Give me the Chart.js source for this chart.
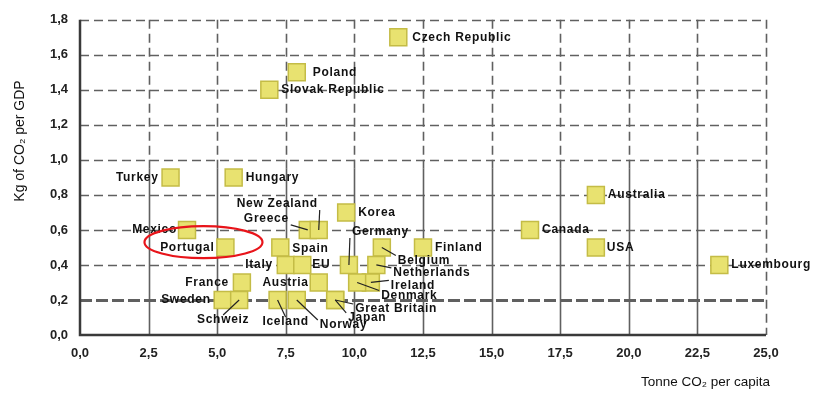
<!DOCTYPE html>
<html>
<head>
<meta charset="utf-8">
<script src="https://cdn.jsdelivr.net/npm/chart.js@4.4.1/dist/chart.umd.min.js"></script>
<style>
  html, body { margin: 0; padding: 0; background: #fff; }
  #wrap { width: 821px; height: 396px; }
</style>
</head>
<body>
<div id="wrap"><canvas id="scatterChart" width="821" height="396"></canvas></div>
<script>
// countries and their values (tonne CO2 per capita, kg CO2 per GDP)
const countries = [
  "Czech Republic", "Poland", "Slovak Republic", "Turkey", "Hungary",
  "Australia", "Canada", "USA", "Luxembourg", "Mexico", "Portugal",
  "Korea", "Greece", "New Zealand", "Spain", "Finland", "Belgium",
  "Netherlands", "Italy", "EU", "Germany", "France", "Austria",
  "Ireland", "Denmark", "Great Britain", "Japan", "Sweden", "Schweiz",
  "Iceland", "Norway"
];
const co2PerCapita = [
  11.6, 7.9, 6.9, 3.3, 5.6,
  18.8, 16.4, 18.8, 23.3, 3.9, 5.3,
  9.7, 8.3, 8.7, 7.3, 12.5, 11.0,
  10.8, 7.5, 8.1, 9.8, 5.9, 8.7,
  10.6, 10.1, 9.3, 9.3, 5.2, 5.8,
  7.2, 7.9
];
const co2PerGdp = [
  1.7, 1.5, 1.4, 0.9, 0.9,
  0.8, 0.6, 0.5, 0.4, 0.6, 0.5,
  0.7, 0.6, 0.6, 0.5, 0.5, 0.5,
  0.4, 0.4, 0.4, 0.4, 0.3, 0.3,
  0.3, 0.3, 0.2, 0.2, 0.2, 0.2,
  0.2, 0.2
];
const xTicks = [0, 2.5, 5, 7.5, 10, 12.5, 15, 17.5, 20, 22.5, 25];
const yTicks = [0, 0.2, 0.4, 0.6, 0.8, 1.0, 1.2, 1.4, 1.6, 1.8];

// label placement: [dx, dy, align, leader line]
const labelPlace = {
  "Czech Republic": [14, 0, "left", false],
  "Poland": [16, 0, "left", false],
  "Slovak Republic": [12, 0, "left", false],
  "Turkey": [-12, 0, "right", false],
  "Hungary": [12, 0, "left", false],
  "Australia": [12, 0, "left", false],
  "Canada": [12, 0, "left", false],
  "USA": [11, 0, "left", false],
  "Luxembourg": [12, 0, "left", false],
  "Mexico": [-10, 0, "right", false],
  "Portugal": [-11, 0, "right", false],
  "Korea": [12, 0, "left", false],
  "Greece": [-19, -11, "right", true],
  "New Zealand": [-1, -26, "right", true],
  "Spain": [12, 1, "left", false],
  "Finland": [12, 0, "left", false],
  "Belgium": [16, 13, "left", true],
  "Netherlands": [17, 8, "left", true],
  "Italy": [-13, 0, "right", false],
  "EU": [10, 0, "left", false],
  "Germany": [3, -33, "left", true],
  "France": [-13, 0, "right", false],
  "Austria": [-10, 0, "right", false],
  "Ireland": [20, 3, "left", true],
  "Denmark": [24, 13, "left", true],
  "Great Britain": [20, 9, "left", true],
  "Japan": [13, 18, "left", true],
  "Sweden": [-12, 0, "right", false],
  "Schweiz": [-16, 20, "center", true],
  "Iceland": [8, 22, "center", true],
  "Norway": [23, 25, "left", true]
};

const fmt = (v) => Number(v).toFixed(1).replace(".", ",");
const FONT = "'Liberation Sans', Arial, sans-serif";

const points = countries.map((c, i) => ({ x: co2PerCapita[i], y: co2PerGdp[i], name: c }));

// draw the grid by hand: dashed horizontals, verticals dashed up top and solid below
const gridPlugin = {
  id: "gridPlugin",
  beforeDatasetsDraw(chart) {
    const { ctx, chartArea: a, scales } = chart;
    const xs = scales.x, ys = scales.y;
    ctx.save();
    ctx.strokeStyle = "#606060";
    // horizontal lines
    yTicks.forEach((t) => {
      if (t === 0) return;
      const py = Math.round(ys.getPixelForValue(t)) + 0.5;
      ctx.lineWidth = t === 0.2 ? 3 : 1.6;
      ctx.setLineDash(t === 0.2 ? [12, 4] : [9, 5]);
      ctx.beginPath();
      ctx.moveTo(a.left, py);
      ctx.lineTo(a.right, py);
      ctx.stroke();
    });
    // vertical lines
    const split = ys.getPixelForValue(0.95);
    xTicks.forEach((t) => {
      if (t === 0) return;
      const px = Math.round(xs.getPixelForValue(t)) + 0.5;
      ctx.lineWidth = 1.6;
      ctx.setLineDash([9, 5]);
      ctx.beginPath();
      ctx.moveTo(px, a.top);
      ctx.lineTo(px, t === 25 ? a.bottom : split);
      ctx.stroke();
      if (t !== 25) {
        ctx.setLineDash([]);
        ctx.beginPath();
        ctx.moveTo(px, split);
        ctx.lineTo(px, a.bottom);
        ctx.stroke();
      }
    });
    // axes
    ctx.setLineDash([]);
    ctx.strokeStyle = "#3a3a3a";
    ctx.lineWidth = 2.5;
    ctx.beginPath();
    ctx.moveTo(a.left, a.top);
    ctx.lineTo(a.left, a.bottom);
    ctx.lineTo(a.right, a.bottom);
    ctx.stroke();
    ctx.restore();
  },
  afterDatasetsDraw(chart) {
    const { ctx, scales } = chart;
    const xs = scales.x, ys = scales.y;
    ctx.save();
    ctx.font = "bold 12px " + FONT;
    ctx.fillStyle = "#111";
    ctx.strokeStyle = "#222";
    ctx.lineWidth = 1.2;
    ctx.textBaseline = "middle";
    if ("letterSpacing" in ctx) ctx.letterSpacing = "0.7px";
    points.forEach((p) => {
      const place = labelPlace[p.name];
      const px = xs.getPixelForValue(p.x);
      const py = ys.getPixelForValue(p.y);
      const tx = px + place[0];
      const ty = py + place[1];
      if (place[3]) {
        ctx.beginPath();
        ctx.moveTo(px, py);
        const lx = place[2] === "right" ? tx + 2 : place[2] === "center" ? tx : tx - 2;
        const ly = place[1] < 0 ? ty + 6 : ty - 5;
        ctx.lineTo(lx, ly);
        ctx.stroke();
      }
      ctx.textAlign = place[2];
      ctx.fillText(p.name, tx, ty);
    });
    // red ring around Portugal
    const cx = xs.getPixelForValue(4.5);
    const cy = ys.getPixelForValue(0.53);
    ctx.beginPath();
    ctx.ellipse(cx, cy, 59, 16, 0, 0, Math.PI * 2);
    ctx.strokeStyle = "#e8141a";
    ctx.lineWidth = 2.2;
    ctx.stroke();

    // axis titles
    if ("letterSpacing" in ctx) ctx.letterSpacing = "0px";
    ctx.fillStyle = "#111";
    ctx.font = "13.5px " + FONT;
    ctx.textAlign = "right";
    ctx.fillText("Tonne CO\u2082 per capita", 770, 382);
    ctx.translate(20, 141);
    ctx.rotate(-Math.PI / 2);
    ctx.textAlign = "center";
    ctx.font = "14px " + FONT;
    ctx.fillText("Kg of CO\u2082 per GDP", 0, 0);
    ctx.restore();
  }
};

const ctx = document.getElementById("scatterChart").getContext("2d");
new Chart(ctx, {
  type: "scatter",
  data: {
    datasets: [
      {
        label: "Countries",
        data: points,
        pointStyle: "rect",
        pointRadius: 12,
        pointHoverRadius: 12,
        backgroundColor: "rgb(232, 226, 112)",
        borderColor: "rgb(196, 188, 70)",
        borderWidth: 1.5,
      },
    ],
  },
  options: {
    responsive: false,
    animation: false,
    devicePixelRatio: 1,
    layout: { padding: { left: 0, right: 55, top: 16, bottom: 0 } },
    plugins: {
      legend: { display: false },
      tooltip: { enabled: false },
    },
    scales: {
      x: {
        type: "linear",
        min: 0,
        max: 25,
        afterBuildTicks: (s) => { s.ticks = xTicks.map((v) => ({ value: v })); },
        afterFit: (s) => { s.height = 61; },
        grid: { display: false, drawTicks: false },
        border: { display: false },
        ticks: {
          padding: 11,
          color: "#222",
          font: { family: FONT, size: 13, weight: "bold" },
          callback: (v) => fmt(v),
          maxRotation: 0,
        },
      },
      y: {
        type: "linear",
        min: 0,
        max: 1.8,
        afterBuildTicks: (s) => { s.ticks = yTicks.map((v) => ({ value: v })); },
        afterFit: (s) => { s.width = 80; },
        grid: { display: false, drawTicks: false },
        border: { display: false },
        ticks: {
          padding: 12,
          color: "#222",
          font: { family: FONT, size: 13, weight: "bold" },
          callback: (v) => fmt(v),
        },
      },
    },
  },
  plugins: [gridPlugin],
});
</script>
</body>
</html>
